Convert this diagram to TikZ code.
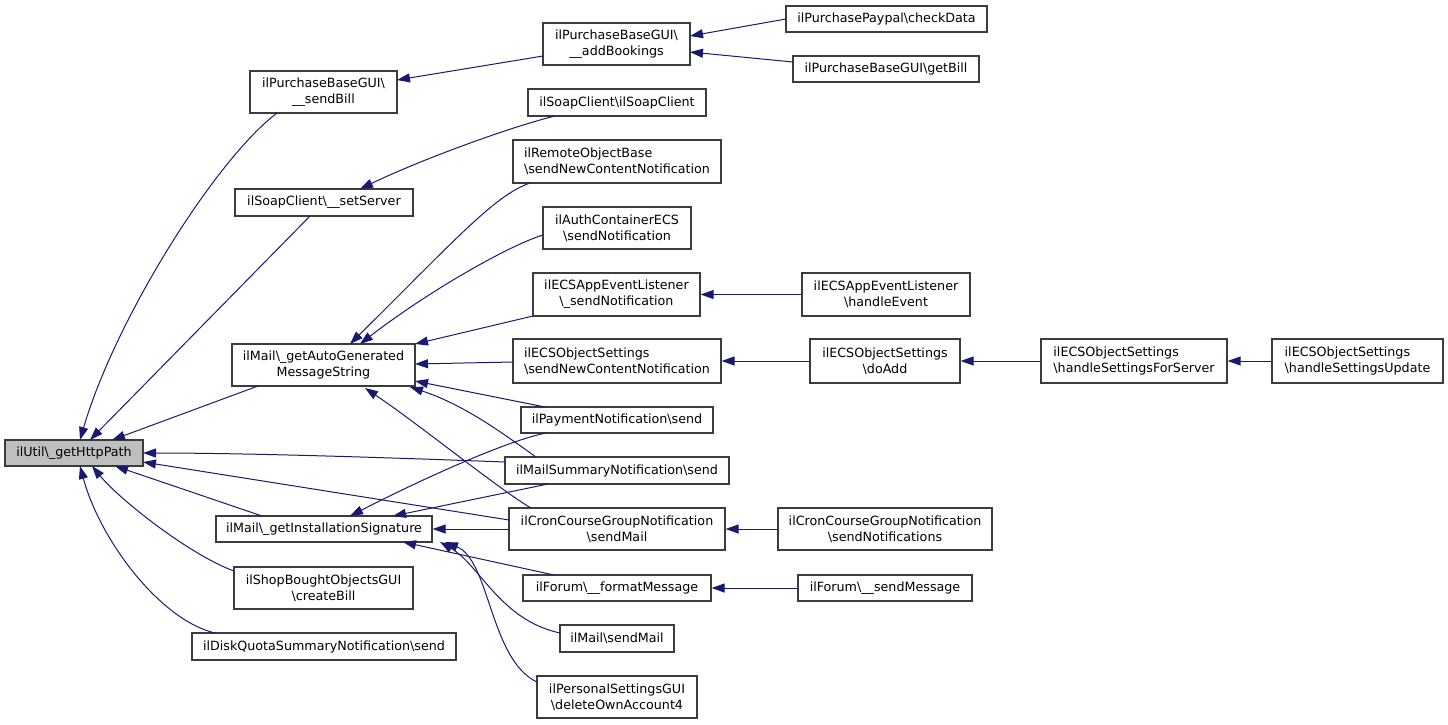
\documentclass[tikz,border=0pt]{standalone}
\usepackage{fontspec}
\setmainfont{DejaVu Sans}
\usetikzlibrary{arrows.meta,calc}
\definecolor{edgecol}{HTML}{191970}
\definecolor{bordercol}{HTML}{3C3C3C}
\definecolor{utilfill}{HTML}{BFBFBF}
\newcommand\bsl{\textbackslash}
\tikzset{
  box/.style={draw=bordercol, line width=1.2pt, fill=white, inner sep=0pt,
    font=\fontsize{12.7}{16}\selectfont, align=center},
  lbox/.style={box, align=left},
  edge/.style={draw=edgecol, line width=1pt, -{Triangle[length=13pt,width=9pt]}},
}
\begin{document}
\begin{tikzpicture}[x=1pt,y=-1pt]
\useasboundingbox (0,0) rectangle (1448,724);
% column 0
\node[box, fill=utilfill, minimum width=138pt, minimum height=26pt] (util) at (74,453) {ilUtil\bsl\_getHttpPath};
% column 1
\node[box, minimum width=147pt, minimum height=42pt] (sendBill) at (323.5,92) {ilPurchaseBaseGUI\bsl\\\_\_sendBill};
\node[box, minimum width=178pt, minimum height=27pt] (setServer) at (324,202.5) {ilSoapClient\bsl\_\_setServer};
\node[box, minimum width=183pt, minimum height=42pt] (autoGen) at (323.5,365) {ilMail\bsl\_getAutoGenerated\\MessageString};
\node[box, minimum width=216pt, minimum height=26pt] (instSig) at (324,529) {ilMail\bsl\_getInstallationSignature};
\node[box, minimum width=179pt, minimum height=42pt] (shop) at (323.5,588) {ilShopBoughtObjectsGUI\\\bsl createBill};
\node[box, minimum width=264pt, minimum height=27pt] (disk) at (324,646.5) {ilDiskQuotaSummaryNotification\bsl send};
% column 2
\node[box, minimum width=147pt, minimum height=42pt] (addBook) at (616.5,44) {ilPurchaseBaseGUI\bsl\\\_\_addBookings};
\node[box, minimum width=178pt, minimum height=27pt] (soapClient) at (617,102.5) {ilSoapClient\bsl ilSoapClient};
\node[lbox, minimum width=208pt, minimum height=43pt] (remoteObj) at (617,161.5) {ilRemoteObjectBase\\\bsl sendNewContentNotification};
\node[box, minimum width=148pt, minimum height=42pt] (authECS) at (617,228) {ilAuthContainerECS\\\bsl sendNotification};
\node[box, minimum width=167pt, minimum height=43pt] (appEvtSend) at (616.5,294.5) {ilECSAppEventListener\\\bsl\_sendNotification};
\node[lbox, minimum width=208pt, minimum height=44pt] (objSendNew) at (617,361) {ilECSObjectSettings\\\bsl sendNewContentNotification};
\node[box, minimum width=192pt, minimum height=26pt] (payNotif) at (617,420) {ilPaymentNotification\bsl send};
\node[box, minimum width=224pt, minimum height=27pt] (mailSummary) at (617,470.5) {ilMailSummaryNotification\bsl send};
\node[box, minimum width=216pt, minimum height=42pt] (cronSendMail) at (617,529) {ilCronCourseGroupNotification\\\bsl sendMail};
\node[box, minimum width=188pt, minimum height=26pt] (formatMsg) at (617,588) {ilForum\bsl\_\_formatMessage};
\node[box, minimum width=114pt, minimum height=27pt] (mailSendMail) at (617,638.5) {ilMail\bsl sendMail};
\node[box, minimum width=160pt, minimum height=42pt] (personal) at (617,697) {ilPersonalSettingsGUI\\\bsl deleteOwnAccount4};
% column 3
\node[box, minimum width=201pt, minimum height=26pt] (checkData) at (886.5,19) {ilPurchasePaypal\bsl checkData};
\node[box, minimum width=186pt, minimum height=26pt] (getBill) at (886,69) {ilPurchaseBaseGUI\bsl getBill};
\node[box, minimum width=168pt, minimum height=43pt] (handleEvent) at (886,294.5) {ilECSAppEventListener\\\bsl handleEvent};
\node[box, minimum width=150pt, minimum height=44pt] (doAdd) at (885,361) {ilECSObjectSettings\\\bsl doAdd};
\node[box, minimum width=214pt, minimum height=42pt] (cronSendNotif) at (885,529) {ilCronCourseGroupNotification\\\bsl sendNotifications};
\node[box, minimum width=174pt, minimum height=26pt] (sendMessage) at (885,588) {ilForum\bsl\_\_sendMessage};
% columns 4, 5
\node[lbox, minimum width=186pt, minimum height=44pt] (forServer) at (1134,361) {ilECSObjectSettings\\\bsl handleSettingsForServer};
\node[lbox, minimum width=171pt, minimum height=44pt] (settingsUpdate) at (1357.5,361) {ilECSObjectSettings\\\bsl handleSettingsUpdate};

% edges into util
\draw[edge] ($(sendBill)+(-46.5,21)$) .. controls (215,160) and (115,320) .. ($(util)+(6,-13)$);
\draw[edge] ($(setServer)+(-14,13.5)$) -- ($(util)+(16,-13)$);
\draw[edge] ($(autoGen)+(-65.5,21)$) -- ($(util)+(38,-13)$);
\draw[edge] ($(mailSummary)+(-112,-8.5)$) .. controls (400,458) and (250,453) .. ($(util)+(69,0)$);
\draw[edge] ($(cronSendMail)+(-108,-9)$) -- ($(util)+(69,9)$);
\draw[edge] ($(instSig)+(-62,-13)$) -- ($(util)+(41,13)$);
\draw[edge] ($(shop)+(-89.5,-17)$) .. controls (190,555) and (120,500) .. ($(util)+(18,13)$);
\draw[edge] ($(disk)+(-109,-13.5)$) .. controls (160,620) and (100,540) .. ($(util)+(6,13)$);
% edges into sendBill / addBookings / setServer
\draw[edge] ($(addBook)+(-73.5,12)$) -- ($(sendBill)+(73.5,-12)$);
\draw[edge] ($(checkData)+(-100.5,0)$) -- ($(addBook)+(73.5,-8)$);
\draw[edge] ($(getBill)+(-93,-7)$) -- ($(addBook)+(73.5,8)$);
\draw[edge] ($(soapClient)+(-62,13.5)$) .. controls (510,127) and (420,160) .. ($(setServer)+(36,-13.5)$);
% edges into autoGen
\draw[edge] ($(remoteObj)+(-87,21.5)$) .. controls (495,195) and (455,240) .. ($(autoGen)+(26.5,-21)$);
\draw[edge] ($(authECS)+(-74,7)$) .. controls (510,245) and (430,290) .. ($(autoGen)+(36.5,-21)$);
\draw[edge] ($(appEvtSend)+(-83.5,21.5)$) -- ($(autoGen)+(91.5,-21)$);
\draw[edge] ($(objSendNew)+(-104,1)$) -- ($(autoGen)+(91.5,-1)$);
\draw[edge] ($(payNotif)+(-72,-13)$) -- ($(autoGen)+(91.5,16)$);
\draw[edge] ($(mailSummary)+(-81,-13.5)$) .. controls (505,435) and (465,405) .. ($(autoGen)+(86.5,22)$);
\draw[edge] ($(cronSendMail)+(-86,-21)$) .. controls (500,490) and (420,425) .. ($(autoGen)+(41.5,23)$);
% edges into instSig
\draw[edge] ($(payNotif)+(-71,13)$) .. controls (510,440) and (430,475) .. ($(instSig)+(26,-13)$);
\draw[edge] ($(mailSummary)+(-69,13.5)$) -- ($(instSig)+(69,-13)$);
\draw[edge] (cronSendMail.west) -- (instSig.east);
\draw[edge] ($(formatMsg)+(-63,-13)$) -- ($(instSig)+(79,13)$);
\draw[edge] ($(mailSendMail)+(-57,-5.5)$) .. controls (500,620) and (480,565) .. ($(instSig)+(116,13)$);
\draw[edge] ($(personal)+(-80,-15)$) .. controls (490,660) and (490,560) .. ($(instSig)+(121,13)$);
% horizontal chains
\draw[edge] (handleEvent.west) -- (appEvtSend.east);
\draw[edge] (doAdd.west) -- (objSendNew.east);
\draw[edge] (forServer.west) -- (doAdd.east);
\draw[edge] (settingsUpdate.west) -- (forServer.east);
\draw[edge] (cronSendNotif.west) -- (cronSendMail.east);
\draw[edge] (sendMessage.west) -- (formatMsg.east);
\end{tikzpicture}
\end{document}
